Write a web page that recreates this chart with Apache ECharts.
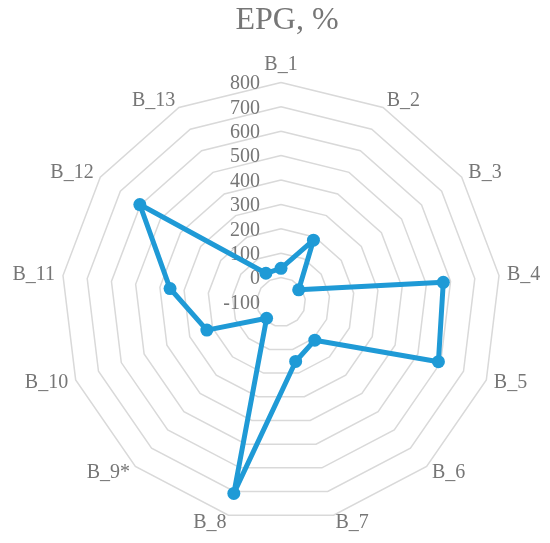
<!DOCTYPE html>
<html><head><meta charset="utf-8">
<script src="https://cdn.jsdelivr.net/npm/echarts@6/dist/echarts.min.js"></script>
<style>html,body{margin:0;padding:0;background:#fff}#c{width:550px;height:543px}</style>
</head><body><div id="c"></div>
<script>
var categories = ['B_1','B_2','B_3','B_4','B_5','B_6','B_7','B_8','B_9*','B_10','B_11','B_12','B_13'];
var epgValues = [38, 186, -12, 570, 590, 109, 151, 708, -11, 225, 358, 603, 33];
var axisMin = -100, axisMax = 800, axisStep = 100;

// ECharts radar runs counter-clockwise; reorder (keeping the first axis on top) to run clockwise
var order = [0];
for (var k = categories.length - 1; k >= 1; k--) order.push(k);

var chart = echarts.init(document.getElementById('c'));
var indicators = order.map(function (i, pos) {
  var ind = { name: categories[i], min: axisMin, max: axisMax };
  if (pos === 0) ind.axisLabel = { show: true };
  return ind;
});
chart.setOption({
  animation: false,
  title: {
    text: 'EPG, %', left: 282, top: 0, textAlign: 'center',
    textStyle: { fontFamily: 'Liberation Serif', fontSize: 32, fontWeight: 'normal', color: '#767676' }
  },
  radar: {
    center: [281, 302],
    radius: 219.6,
    startAngle: 90,
    splitNumber: (axisMax - axisMin) / axisStep,
    shape: 'polygon',
    indicator: indicators,
    nameGap: 8,
    axisName: { fontFamily: 'Liberation Serif', fontSize: 20, color: '#767676' },
    axisLine: { show: false },
    axisTick: { show: false },
    splitArea: { show: false },
    splitLine: { lineStyle: { color: '#d9d9d9', width: 1.5 } },
    axisLabel: {
      show: false, fontFamily: 'Liberation Serif', fontSize: 20, color: '#767676', margin: 21, hideOverlap: false,
      formatter: function (v) { return '{m|' + v + '}'; },
      rich: { m: { fontFamily: 'Liberation Serif', fontSize: 20, color: '#767676', padding: [3, 0, 0, 0] } }
    }
  },
  series: [{
    type: 'radar',
    symbol: 'circle',
    symbolSize: 13,
    lineStyle: { color: '#1f9ad6', width: 5 },
    itemStyle: { color: '#1f9ad6' },
    data: [{ value: order.map(function (i) { return epgValues[i]; }), name: 'EPG, %' }]
  }]
});
</script></body></html>
